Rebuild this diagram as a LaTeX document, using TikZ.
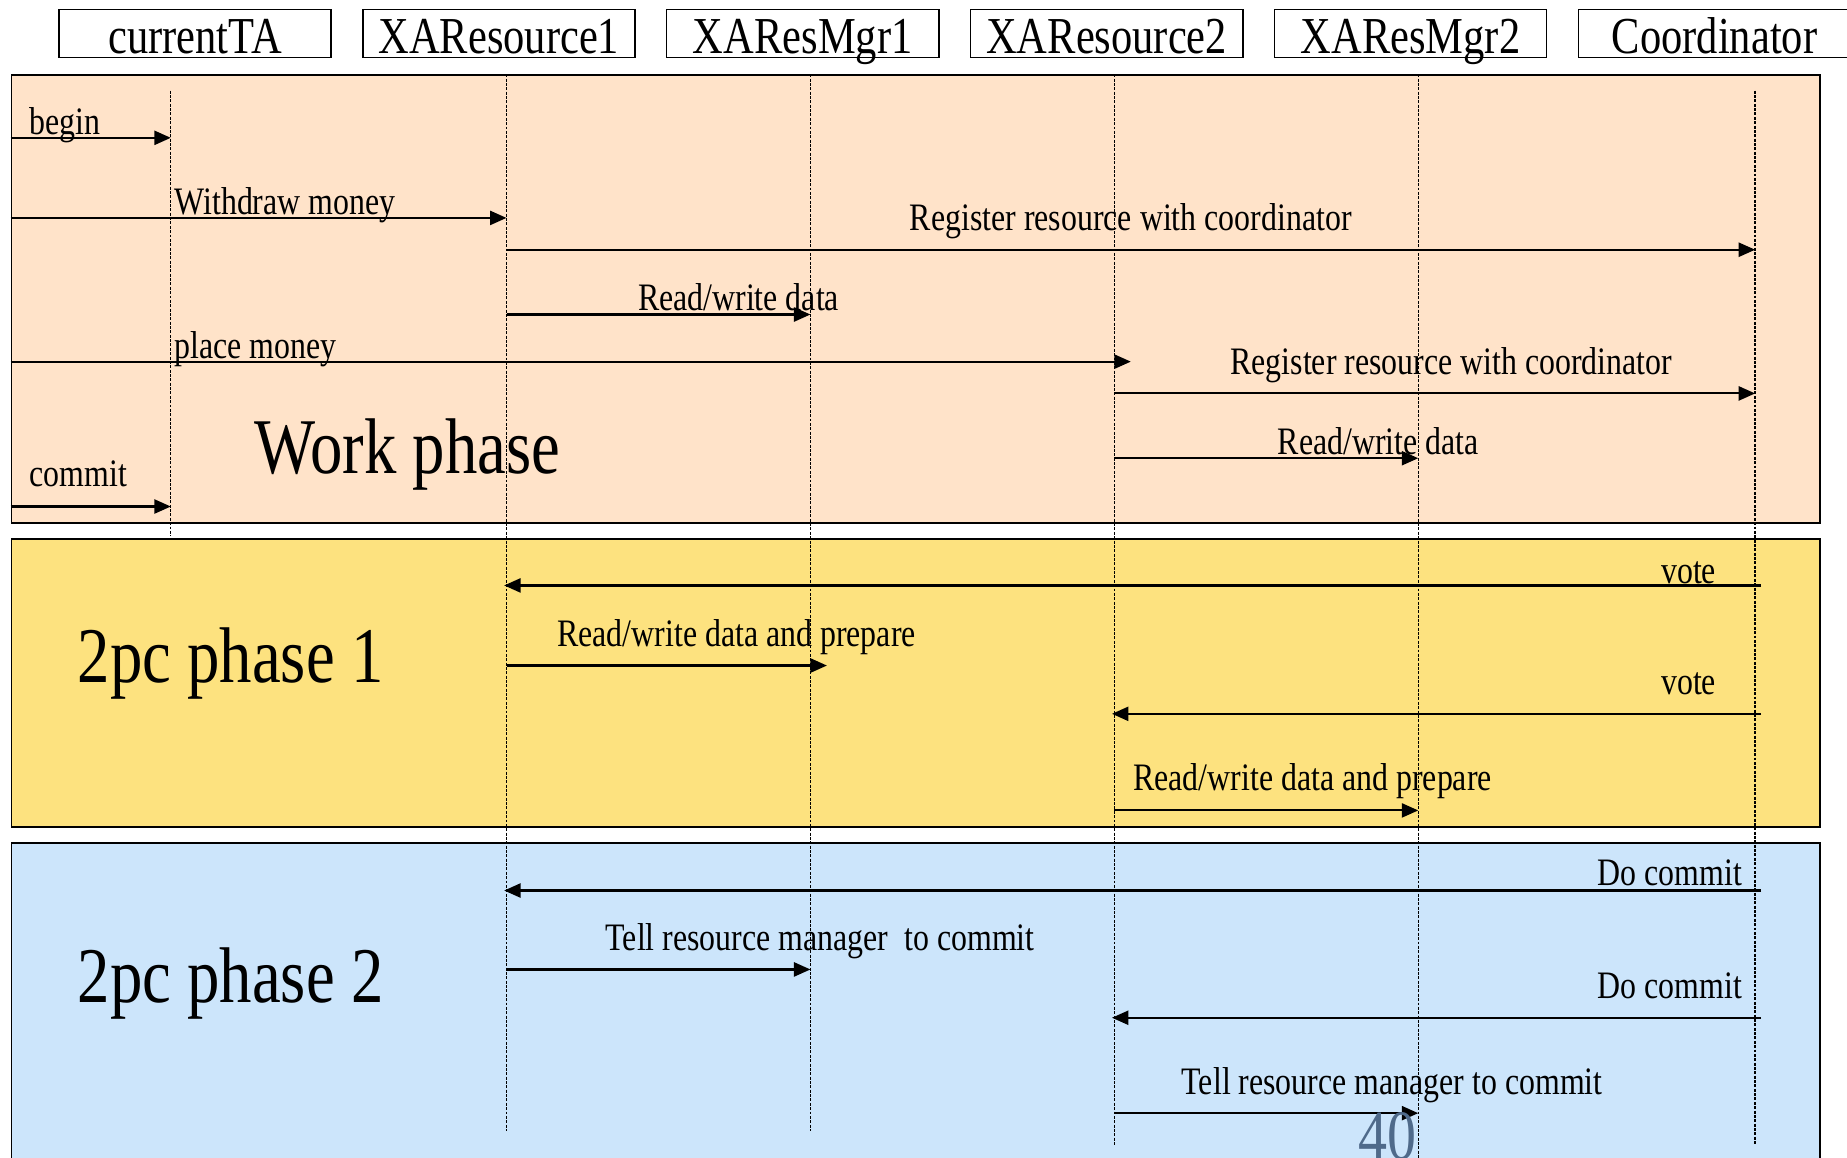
\documentclass[tikz,border=0pt]{standalone}
\usepackage{fontspec}
\setmainfont{Liberation Serif}[FakeStretch=0.82]
\usetikzlibrary{arrows.meta}

\definecolor{workfill}{HTML}{FFE3C9}
\definecolor{prepfill}{HTML}{FDE27F}
\definecolor{commitfill}{HTML}{CCE5FB}
\definecolor{pagenum}{HTML}{4F6A8A}

\newcommand{\fsz}[1]{\fontsize{#1}{#1}\selectfont}

\begin{document}
\begin{tikzpicture}[x=1pt,y=-1pt,
  actor/.style={draw, line width=1.3pt, minimum width=231pt, inner sep=0pt,
                text height=37pt, text depth=4pt, font=\fsz{44}},
  phasebox/.style={draw, line width=1.6pt, anchor=north west, inner sep=0pt,
                   minimum width=1535pt},
  lifeline/.style={line width=1.1pt, dash pattern=on 2.5pt off 1.2pt},
  msg/.style={line width=1.8pt, -{Triangle[length=14pt,width=12pt]}},
  lbl/.style={font=\fsz{33}, inner sep=0pt},
  phaselbl/.style={font=\fsz{67}, inner sep=0pt, anchor=base west},
]
\useasboundingbox (0,0) rectangle (1568,983);
\clip (0,0) rectangle (1568,983);

% participants
\node[actor] (h0) at (165.5,28.5) {currentTA};
\node[actor] (h1) at (423.5,28.5) {XAResource1};
\node[actor] (h2) at (681.5,28.5) {XAResMgr1};
\node[actor] (h3) at (939.5,28.5) {XAResource2};
\node[actor] (h4) at (1197.5,28.5) {XAResMgr2};
\node[actor] (h5) at (1455.5,28.5) {Coordinator};

% phase bands
\node[phasebox, fill=workfill,   minimum height=380pt] (work)   at (9,63)  {};
\node[phasebox, fill=prepfill,   minimum height=244pt] (prep)   at (9,457) {};
\node[phasebox, fill=commitfill, minimum height=300pt] (commit) at (9,715) {};

% lifelines
\coordinate (L0) at (145,77);   \coordinate (L0e) at (145,455);
\coordinate (L1) at (430,63);   \coordinate (L1e) at (430,960);
\coordinate (L2) at (688,63);   \coordinate (L2e) at (688,960);
\coordinate (L3) at (946,63);   \coordinate (L3e) at (946,972);
\coordinate (L4) at (1204,63);  \coordinate (L4e) at (1204,990);
\coordinate (L5) at (1490,77);  \coordinate (L5e) at (1490,972);
\foreach \i in {0,...,5} \draw[lifeline] (L\i) -- (L\i e);

% message rows
\coordinate (r1)  at (0,117);
\coordinate (r2)  at (0,185);
\coordinate (r3)  at (0,212);
\coordinate (r4)  at (0,267);
\coordinate (r5)  at (0,307);
\coordinate (r6)  at (0,334);
\coordinate (r7)  at (0,389);
\coordinate (r8)  at (0,430);
\coordinate (r9)  at (0,497);
\coordinate (r10) at (0,565);
\coordinate (r11) at (0,606);
\coordinate (r12) at (0,688);
\coordinate (r13) at (0,756);
\coordinate (r14) at (0,823);
\coordinate (r15) at (0,864);
\coordinate (r16) at (0,945);

% work phase
\draw[msg] (work.west |- r1) -- (L0 |- r1);
\draw[msg] (work.west |- r2) -- (L1 |- r2);
\draw[msg] (L1 |- r3) -- (L5 |- r3);
\draw[msg] (L1 |- r4) -- (L2 |- r4);
\draw[msg, shorten >=-14pt] (work.west |- r5) -- (L3 |- r5);
\draw[msg] (L3 |- r6) -- (L5 |- r6);
\draw[msg] (L3 |- r7) -- (L4 |- r7);
\draw[msg] (work.west |- r8) -- (L0 |- r8);

% 2pc phase 1
\draw[msg, shorten <=-5pt, shorten >=-2pt] (L5 |- r9) -- (L1 |- r9);
\draw[msg, shorten >=-14pt] (L1 |- r10) -- (L2 |- r10);
\draw[msg, shorten <=-5pt, shorten >=-2pt] (L5 |- r11) -- (L3 |- r11);
\draw[msg] (L3 |- r12) -- (L4 |- r12);

% 2pc phase 2
\draw[msg, shorten <=-5pt, shorten >=-2pt] (L5 |- r13) -- (L1 |- r13);
\draw[msg] (L1 |- r14) -- (L2 |- r14);
\draw[msg, shorten <=-5pt, shorten >=-2pt] (L5 |- r15) -- (L3 |- r15);
\draw[msg] (L3 |- r16) -- (L4 |- r16);

% message labels
\node[lbl, anchor=base west] (t1)  at (25,114)   {begin};
\node[lbl, anchor=base west] (t2)  at (148,182)  {Withdraw money};
\node[lbl, anchor=base]      (t3)  at (960,196)  {Register resource with coordinator};
\node[lbl, anchor=base]      (t4)  at (627,264)  {Read/write data};
\node[lbl, anchor=base west] (t5)  at (148,304)  {place money};
\node[lbl, anchor=base]      (t6)  at (1232,318) {Register resource with coordinator};
\node[lbl, anchor=base]      (t7)  at (1170,386) {Read/write data};
\node[lbl, anchor=base west] (t8)  at (25,413)   {commit};
\node[lbl, anchor=base east] (t9)  at (1457,495) {vote};
\node[lbl, anchor=base west] (t10) at (473,549)  {Read/write data and prepare};
\node[lbl, anchor=base east] (t11) at (1457,590) {vote};
\node[lbl, anchor=base west] (t12) at (962,671)  {Read/write data and prepare};
\node[lbl, anchor=base east] (t13) at (1479,752) {Do commit};
\node[lbl, anchor=base west] (t14) at (514,807)  {Tell resource manager\ \ to commit};
\node[lbl, anchor=base east] (t15) at (1479,848) {Do commit};
\node[lbl, anchor=base west] (t16) at (1003,929) {Tell resource manager to commit};

% phase titles
\node[phaselbl] (p0) at (216,402) {Work phase};
\node[phaselbl] (p1) at (66,579)  {2pc phase 1};
\node[phaselbl] (p2) at (66,851)  {2pc phase 2};

% slide number
\node[font=\fsz{60}, text=pagenum, inner sep=0pt, anchor=base west] (pg) at (1153,984) {40};
\end{tikzpicture}
\end{document}
